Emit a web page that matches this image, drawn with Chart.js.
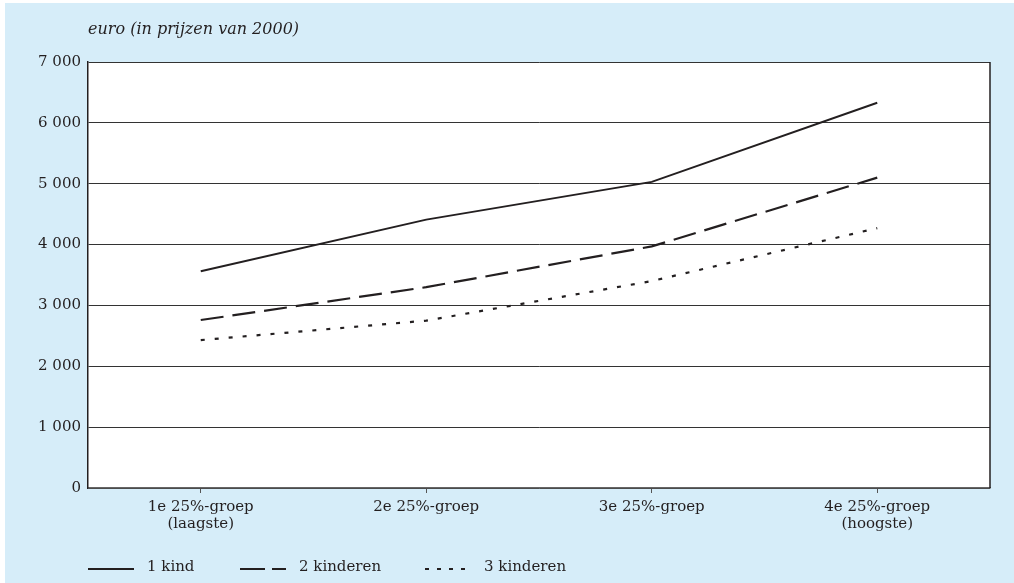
<!DOCTYPE html>
<html>
<head>
<meta charset="utf-8">
<script src="https://cdn.jsdelivr.net/npm/chart.js@4/dist/chart.umd.min.js"></script>
<style>
  html, body { margin: 0; padding: 0; background: #ffffff; }
  #panel { position: absolute; left: 5px; top: 3px; width: 1009px; height: 580px; background: #d6edf9; }
  #wrap { position: absolute; left: 0; top: 0; width: 1014px; height: 583px; }
</style>
</head>
<body>
<div id="panel"></div>
<div id="wrap"><canvas id="lineChart" width="1014" height="583"></canvas></div>
<script>
const categories = [
  ["1e 25%-groep", "(laagste)"],
  "2e 25%-groep",
  "3e 25%-groep",
  ["4e 25%-groep", "(hoogste)"],
];
const oneChild = [3560, 4410, 5030, 6330];
const twoChildren = [2760, 3300, 3970, 5100];
const threeChildren = [2430, 2750, 3400, 4270];
const seriesNames = ["1 kind", "2 kinderen", "3 kinderen"];
const unitLabel = "euro (in prijzen van 2000)";

const FONT = "DejaVu Serif";
const INK = "#231f20";

Chart.defaults.font.family = FONT;
Chart.defaults.font.size = 15;
Chart.defaults.color = INK;

// draws the unit label, right border and legend line samples
const extras = {
  id: "extras",
  afterDraw(chart) {
    const { ctx, chartArea } = chart;
    ctx.save();
    ctx.strokeStyle = INK;
    ctx.lineWidth = 1.5;
    ctx.beginPath();
    ctx.moveTo(chartArea.right, chartArea.top);
    ctx.lineTo(chartArea.right, chartArea.bottom);
    ctx.stroke();

    ctx.font = "italic 16px " + FONT;
    ctx.fillStyle = INK;
    ctx.textBaseline = "middle";
    ctx.fillText(unitLabel, chartArea.left, 30);

    const legendX = [88, 240, 425];
    const legendY = 567;
    chart.data.datasets.forEach((ds, i) => {
      const x = legendX[i];
      ctx.strokeStyle = ds.borderColor;
      ctx.lineWidth = 2;
      ctx.setLineDash(ds.legendDash || []);
      ctx.beginPath();
      ctx.moveTo(x, legendY + 2);
      ctx.lineTo(x + 46, legendY + 2);
      ctx.stroke();
      ctx.setLineDash([]);
      ctx.font = "15px " + FONT;
      ctx.fillText(ds.label, x + 59, legendY);
    });
    ctx.restore();
  },
};

new Chart(document.getElementById("lineChart"), {
  type: "line",
  data: {
    labels: categories,
    datasets: [
      {
        label: seriesNames[0],
        data: oneChild,
        borderColor: INK,
        borderWidth: 2,
        pointRadius: 0,
        tension: 0,
      },
      {
        label: seriesNames[1],
        data: twoChildren,
        borderColor: INK,
        borderWidth: 2.2,
        borderDash: [23, 9],
        legendDash: [25, 7],
        pointRadius: 0,
        tension: 0,
      },
      {
        label: seriesNames[2],
        data: threeChildren,
        borderColor: INK,
        borderWidth: 2.2,
        borderDash: [4, 10],
        legendDash: [4, 8],
        pointRadius: 0,
        tension: 0,
      },
    ],
  },
  options: {
    responsive: false,
    animation: false,
    layout: {
      padding: { top: 62, right: 24, bottom: 0, left: 0 },
    },
    plugins: {
      legend: { display: false },
      tooltip: { enabled: false },
    },
    scales: {
      x: {
        offset: true,
        grid: {
          display: true,
          drawOnChartArea: false,
          drawTicks: true,
          tickLength: 5,
          color: "#555",
          offset: false,
        },
        border: { color: "#666", width: 1.5 },
        ticks: {
          maxRotation: 0,
          autoSkip: false,
          padding: 5,
          font: { size: 15, lineHeight: 1.15 },
        },
        afterFit: (s) => { s.height = 95; },
      },
      y: {
        min: 0,
        max: 7000,
        grid: {
          color: "#333",
          lineWidth: 1,
          drawTicks: false,
        },
        border: { color: INK, width: 1.5 },
        ticks: {
          stepSize: 1000,
          padding: 7,
          callback: (v) => v.toLocaleString("fr-FR").replace(/\u202f|\u00a0/g, " "),
        },
        afterFit: (s) => { s.width = 88; },
      },
    },
  },
  plugins: [
    {
      id: "chartAreaBg",
      beforeDraw(chart) {
        const { ctx, chartArea } = chart;
        ctx.save();
        ctx.fillStyle = "#ffffff";
        ctx.fillRect(chartArea.left, chartArea.top, chartArea.right - chartArea.left, chartArea.bottom - chartArea.top);
        ctx.restore();
      },
    },
    extras,
  ],
});
</script>
</body>
</html>
